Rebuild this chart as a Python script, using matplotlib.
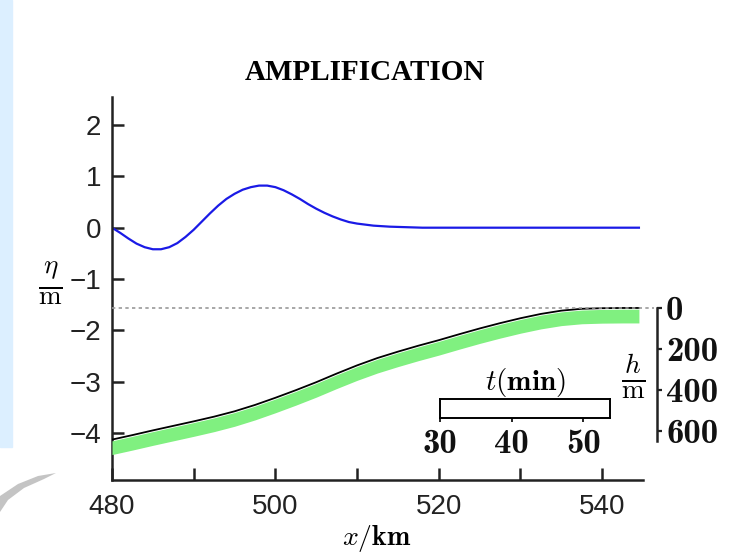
import matplotlib
matplotlib.use('Agg')
import matplotlib.pyplot as plt
from matplotlib.patches import Rectangle, Polygon

# surface elevation eta (m) along the profile x (km)
x_eta = [480, 481, 482, 483, 484, 485, 486, 487, 488, 489, 490,
         491, 492, 493, 494, 495, 496, 497, 498, 499, 500,
         501, 502, 503, 504, 505, 506, 507, 508, 509, 510,
         512, 514, 516, 518, 520, 525, 530, 535, 540, 544.5]
eta = [0.0, -0.10, -0.21, -0.31, -0.38, -0.42, -0.42, -0.38, -0.30, -0.18, -0.04,
       0.12, 0.28, 0.43, 0.56, 0.66, 0.74, 0.79, 0.82, 0.82, 0.79,
       0.73, 0.65, 0.56, 0.46, 0.37, 0.29, 0.22, 0.16, 0.11, 0.08,
       0.04, 0.02, 0.01, 0.0, 0.0, 0.0, 0.0, 0.0, 0.0, 0.0]

# water depth h (m) and the green band below it
x_h = [480, 482.5, 485, 487.5, 490, 492.5, 495, 497.5, 500, 502.5, 505,
       507.5, 510, 512.5, 515, 517.5, 520, 522.5, 525, 527.5, 530,
       532.5, 535, 537.5, 540, 542.5, 544.5]
h_m = [642, 620, 597, 575, 553, 530, 504, 473, 438, 401, 362,
       320, 280, 244, 213, 184, 157, 128, 100, 74, 50,
       29, 13, 4, 1, 0, 0]
band_top = [648, 626, 603, 581, 559, 536, 510, 479, 444, 407, 368,
            326, 286, 250, 219, 190, 163, 134, 106, 80, 56,
            35, 19, 10, 7, 6, 6]
band_bot = [715, 693, 670, 648, 626, 603, 577, 546, 511, 474, 435,
            393, 353, 317, 286, 257, 230, 201, 173, 147, 123,
            102, 86, 77, 74, 73, 73]

x_ticks = [480, 490, 500, 510, 520, 530, 540]
x_labels = ['480', '', '500', '', '520', '', '540']
eta_ticks = [2, 1, 0, -1, -2, -3, -4]
eta_labels = ['2', '1', '0', '\u22121', '\u22122', '\u22123', '\u22124']
h_ticks = [0, 200, 400, 600]
t_ticks = [30, 40, 50]

plt.rcParams['mathtext.fontset'] = 'cm'
plt.rcParams['font.family'] = 'Liberation Sans'

W, H = 735, 560
fig = plt.figure(figsize=(W / 100, H / 100), dpi=100)

# slide background bits
fig.patches.append(Rectangle((0, 1 - 447 / H), 12 / W, 447 / H, transform=fig.transFigure,
                             color='#dcefff', zorder=0))
sw = [(0, 496), (18, 484), (38, 476), (56, 473), (44, 479), (24, 488), (8, 500), (0, 512)]
fig.patches.append(Polygon([(px / W, 1 - py / H) for px, py in sw], closed=True,
                           transform=fig.transFigure, color='#c4c4c4', lw=0, zorder=0))

ax = fig.add_axes([112 / W, 80 / H, 531 / W, 383 / H])
ax.patch.set_alpha(0)
ax.set_xlim(480, 545)
ax.set_ylim(-4.915, 2.546)
ax.plot(x_eta, eta, color='#1a1ae6', lw=1.6)

for s in ['top', 'right']:
    ax.spines[s].set_visible(False)
for s in ['left', 'bottom']:
    ax.spines[s].set_linewidth(1.8)
    ax.spines[s].set_color('#222222')
ax.set_xticks(x_ticks, x_labels)
ax.set_yticks(eta_ticks, eta_labels)
ax.tick_params(axis='both', direction='in', length=8.6, width=1.8, color='#222222',
               labelsize=20, labelcolor='#222222')
ax.tick_params(axis='y', pad=8)
ax.tick_params(axis='x', pad=10)

# depth axis on the right
ax2 = ax.twinx()
ax2.set_ylim(839, -1029)
ax2.fill_between(x_h, band_top, band_bot, color='#80f080', lw=0)
ax2.plot(x_h, h_m, color='black', lw=1.3)
ax2.axhline(0, xmin=0, xmax=1.02, ls=(0, (2, 2)), color='#999999', lw=1.2, clip_on=False)
for s in ['top', 'left', 'bottom']:
    ax2.spines[s].set_visible(False)
ax2.spines['right'].set_position(('outward', 10))
ax2.spines['right'].set_bounds(0, 650)
ax2.spines['right'].set_linewidth(1.8)
ax2.spines['right'].set_color('#222222')
ax2.set_yticks(h_ticks)
ax2.tick_params(axis='y', direction='out', length=3.6, width=1.6, pad=3,
                labelsize=25, color='#222222', labelcolor='#111111')
for lbl in ax2.get_yticklabels():
    lbl.set_fontfamily('cmb10')

# time scale inset
ax3 = fig.add_axes([440 / W, 1 - 418 / H, 170 / W, 19 / H])
ax3.set_xlim(30, 53.75)
ax3.set_yticks([])
ax3.set_xticks(t_ticks)
ax3.tick_params(axis='x', direction='out', length=3, width=1.2, pad=5, labelsize=25,
                labelcolor='#111111')
for lbl in ax3.get_xticklabels():
    lbl.set_fontfamily('cmb10')
for s in ax3.spines.values():
    s.set_linewidth(1.4)
ax3.set_title(r'$t\mathbf{(min)}$', fontsize=21, pad=4)

fig.text(365 / W, 1 - 73 / H, 'AMPLIFICATION', family='Liberation Serif', weight='bold',
         fontsize=21, ha='center', va='center')
fig.text(377 / W, 1 - 538 / H, r'$x\mathbf{/km}$', fontsize=20, ha='center', va='center')
fig.text(50 / W, 1 - 284 / H, r'$\frac{\eta}{\mathrm{m}}$', fontsize=28, ha='center', va='center')
fig.text(633 / W, 1 - 377 / H, r'$\frac{h}{\mathrm{m}}$', fontsize=28, ha='center', va='center')

fig.savefig('out.png', dpi=100)
